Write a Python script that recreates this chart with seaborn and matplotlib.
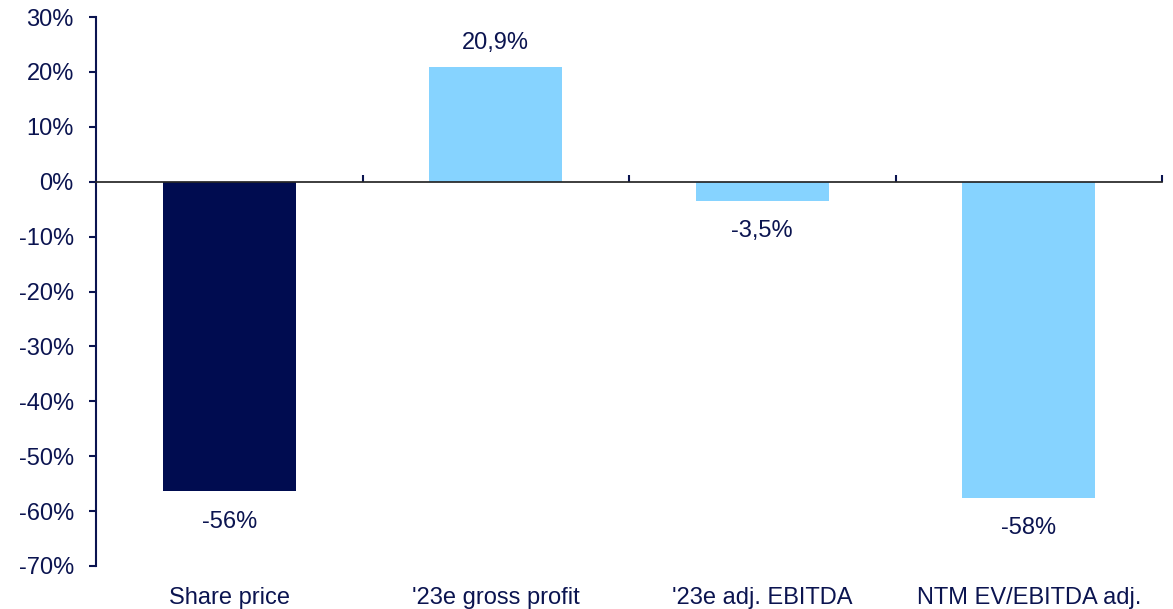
import matplotlib
matplotlib.use("Agg")
import matplotlib.pyplot as plt
import seaborn as sns
import pandas as pd

categories = ["Share price", "'23e gross profit", "'23e adj. EBITDA", "NTM EV/EBITDA adj."]
values = [-56.4, 20.9, -3.5, -57.6]
value_labels = ["-56%", "20,9%", "-3,5%", "-58%"]
bar_colors = ["#000C50", "#86D3FF", "#86D3FF", "#86D3FF"]
y_ticks = [30, 20, 10, 0, -10, -20, -30, -40, -50, -60, -70]

navy = "#0B1450"

sns.set_theme(style="white")
plt.rcParams["font.family"] = ["Liberation Sans", "DejaVu Sans"]

df = pd.DataFrame({"category": categories, "change": values})

fig = plt.figure(figsize=(11.73, 6.09), dpi=100)
ax = fig.add_axes([96 / 1173, 1 - 566 / 609, (1162 - 96) / 1173, (566 - 17) / 609])

sns.barplot(data=df, x="category", y="change", hue="category",
            palette=bar_colors, legend=False, width=0.5, saturation=1,
            linewidth=0, ax=ax)

ax.set_xlim(-0.5, 3.5)
ax.set_ylim(-70, 30)
ax.set_yticks(y_ticks)
ax.set_yticklabels([f"{t}%" for t in y_ticks])
ax.set_xlabel("")
ax.set_ylabel("")

for side in ["top", "right", "bottom"]:
    ax.spines[side].set_visible(False)
ax.spines["left"].set_color(navy)
ax.spines["left"].set_linewidth(1.5)

ax.tick_params(axis="y", direction="out", length=5, width=1.5, color=navy,
               labelcolor=navy, labelsize=17, pad=11, left=True)
ax.tick_params(axis="x", length=0, labelcolor=navy, labelsize=17, pad=15)

# zero line with category separator ticks, drawn above the bars
zero_axis = ax.secondary_xaxis(0.7)
zero_axis.set_zorder(5)
zero_axis.set_xticks([0.5, 1.5, 2.5, 3.5])
zero_axis.set_xticklabels([])
zero_axis.tick_params(direction="out", length=5, width=1.5, color=navy)
zero_axis.spines["bottom"].set_color(navy)
zero_axis.spines["bottom"].set_linewidth(1.5)

for container, label, v in zip(ax.containers, value_labels, values):
    ax.bar_label(container, labels=[label], padding=9 if v > 0 else 14,
                 color=navy, fontsize=17)

fig.savefig("out.png", dpi=100)
